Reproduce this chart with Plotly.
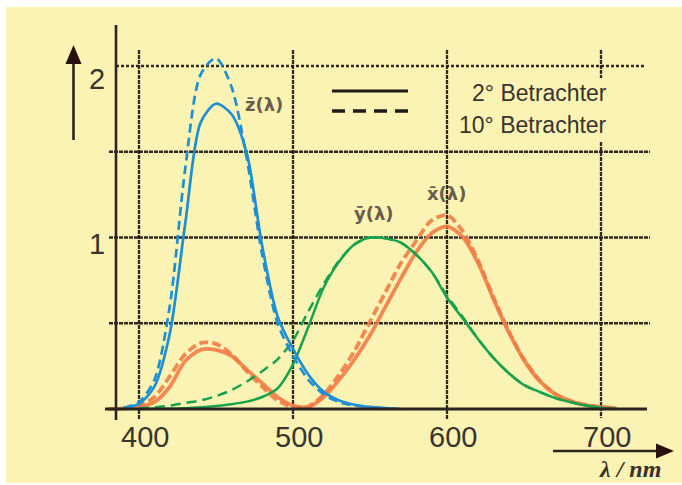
import plotly.graph_objects as go

# ---------------- data ----------------
wavelength = [380, 390, 400, 410, 420, 430, 440, 450, 460, 470, 480, 490, 500,
              510, 520, 530, 540, 550, 560, 570, 580, 590, 600, 610, 620, 630,
              640, 650, 660, 670, 680, 690, 700, 710, 720]

x_2deg = [0.0, 0.004, 0.012, 0.04, 0.13, 0.28, 0.345, 0.345, 0.31, 0.23, 0.15, 0.07, 0.02,
          0.012, 0.07, 0.17, 0.29, 0.43, 0.595, 0.76, 0.915, 1.025, 1.065, 1.005, 0.855, 0.645,
          0.45, 0.285, 0.165, 0.088, 0.047, 0.023, 0.011, 0.004, None]
x_10deg = [None, 0.004, 0.02, 0.07, 0.19, 0.32, 0.385, 0.38, 0.32, 0.22, 0.13, 0.05, 0.012,
           0.015, 0.085, 0.20, 0.34, 0.51, 0.68, 0.85, 0.98, 1.10, 1.13, 1.04, 0.87, 0.655,
           0.455, 0.29, 0.168, 0.09, 0.048, 0.024, 0.012, 0.005, None]
y_2deg = [None, None, 0.0, 0.001, 0.002, 0.005, 0.01, 0.018, 0.028, 0.043, 0.07, 0.12, 0.26,
          0.48, 0.71, 0.86, 0.96, 1.0, 0.995, 0.97, 0.90, 0.80, 0.65, 0.53, 0.41, 0.30,
          0.21, 0.14, 0.10, 0.065, 0.04, 0.02, 0.008, 0.003, None]
y_10deg = [None, None, 0.004, 0.01, 0.02, 0.035, 0.05, 0.075, 0.11, 0.16, 0.22, 0.29, 0.40,
           0.57, 0.73, 0.865, 0.96, 1.0, 0.995, 0.97, 0.90, 0.80, 0.66, 0.54, 0.41, 0.30,
           0.21, 0.14, 0.10, 0.065, 0.04, 0.02, 0.008, None, None]
z_2deg = [None, 0.006, 0.03, 0.13, 0.44, 1.08, 1.67, 1.78, 1.72, 1.49, 0.95, 0.54, 0.35,
          0.20, 0.10, 0.05, 0.025, 0.012, 0.005, 0.0, None, None, None, None, None, None,
          None, None, None, None, None, None, None, None, None]
z_10deg = [None, 0.006, 0.04, 0.17, 0.60, 1.40, 1.95, 2.045, 1.88, 1.46, 0.90, 0.50, 0.31,
           0.17, 0.085, 0.04, 0.02, 0.008, 0.0, None, None, None, None, None, None, None,
           None, None, None, None, None, None, None, None, None]

x_ticks = [400, 500, 600, 700]
x_tick_labels = ["400", "500", "600", "700"]
y_ticks = [1, 2]
y_tick_labels = ["1", "2"]
y_grid = [0.5, 1.0, 1.5]
y_grid_top = 2.0

legend_labels = ["2° Betrachter", "10° Betrachter"]
curve_labels = ["z\u0304(λ)", "y\u0304(λ)", "x\u0304(λ)"]
x_axis_title = "λ / nm"

# ---------------- geometry helpers ----------------
W, H = 682, 485
X_PX0, X_PX_PER = 139.0, 1.54      # pixel of 400 nm, pixels per nm
Y_PX0, Y_PX_PER = 409.0, 171.5     # pixel of value 0, pixels per unit


def px2x(px):
    return 400 + (px - X_PX0) / X_PX_PER


def px2y(py):
    return (Y_PX0 - py) / Y_PX_PER


BLUE = "#1f8fd4"
GREEN = "#17a24c"
ORANGE = "rgba(240,122,70,0.88)"
DARK = "#2b2420"
GRID = "rgba(35,30,25,0.95)"
TEXT = "#3a332d"
BG = "#FBF3B3"

fig = go.Figure()


def add_curve(vals, color, width, dash):
    fig.add_trace(go.Scatter(x=wavelength, y=vals, mode="lines",
                             line=dict(color=color, width=width, dash=dash, shape="spline",
                                       smoothing=0.8),
                             connectgaps=False, showlegend=False, hoverinfo="skip"))


add_curve(x_10deg, ORANGE, 3.8, "9px,4px")
add_curve(x_2deg, ORANGE, 3.8, "solid")
add_curve(y_10deg, GREEN, 2.5, "10px,6px")
add_curve(y_2deg, GREEN, 2.5, "solid")
add_curve(z_10deg, BLUE, 2.7, "9px,5px")
add_curve(z_2deg, BLUE, 2.7, "solid")

shapes = []
# yellow background
shapes.append(dict(type="rect", xref="paper", yref="paper", x0=6 / W, x1=1, y0=2 / H, y1=478 / H,
                   fillcolor=BG, line=dict(width=0), layer="below"))
# vertical grid lines
for t in x_ticks:
    if t == 700:
        segs = [(50, 78), (142, 418)]
    else:
        segs = [(50, 420)]
    for a, b in segs:
        shapes.append(dict(type="line", xref="x", yref="y", x0=t, x1=t, y0=px2y(a), y1=px2y(b),
                           line=dict(color=GRID, width=2.3, dash="4px,1px"), layer="below"))
# horizontal grid lines
for g in y_grid:
    shapes.append(dict(type="line", xref="x", yref="y", x0=px2x(109), x1=px2x(650), y0=g, y1=g,
                       line=dict(color=GRID, width=2.3, dash="4px,1px"), layer="below"))
shapes.append(dict(type="line", xref="x", yref="y", x0=px2x(116), x1=px2x(645),
                   y0=y_grid_top, y1=y_grid_top,
                   line=dict(color=GRID, width=2.4, dash="3px,2px"), layer="below"))
# axes
shapes.append(dict(type="line", xref="x", yref="y", x0=px2x(116), x1=px2x(116),
                   y0=px2y(25), y1=px2y(420), line=dict(color=DARK, width=2.6)))
shapes.append(dict(type="line", xref="x", yref="y", x0=px2x(105), x1=px2x(647),
                   y0=0, y1=0, line=dict(color=DARK, width=3)))
# y arrow
shapes.append(dict(type="line", xref="x", yref="y", x0=px2x(73.5), x1=px2x(73.5),
                   y0=px2y(140), y1=px2y(60), line=dict(color=DARK, width=2.6)))
shapes.append(dict(type="path", xref="x", yref="y",
                   path=f"M {px2x(73.5)} {px2y(45)} L {px2x(81.5)} {px2y(64)} "
                        f"L {px2x(65.5)} {px2y(64)} Z",
                   fillcolor="#2a1010", line=dict(width=0)))
# x arrow
shapes.append(dict(type="line", xref="x", yref="y", x0=px2x(553), x1=px2x(660),
                   y0=px2y(451), y1=px2y(451), line=dict(color=DARK, width=2.6)))
shapes.append(dict(type="path", xref="x", yref="y",
                   path=f"M {px2x(674)} {px2y(451)} L {px2x(656)} {px2y(443.5)} "
                        f"L {px2x(656)} {px2y(458.5)} Z",
                   fillcolor="#2a1010", line=dict(width=0)))
# legend samples
shapes.append(dict(type="line", xref="x", yref="y", x0=px2x(332), x1=px2x(408),
                   y0=px2y(91), y1=px2y(91), line=dict(color="#1e1a18", width=3)))
shapes.append(dict(type="line", xref="x", yref="y", x0=px2x(332), x1=px2x(409),
                   y0=px2y(111), y1=px2y(111),
                   line=dict(color="#1e1a18", width=3.5, dash="13px,8px")))

annotations = []
for t, lab in zip(x_ticks, x_tick_labels):
    annotations.append(dict(x=t, y=px2y(437), text=lab, showarrow=False, xshift=6,
                            font=dict(family="Liberation Sans", size=29, color=TEXT)))
for t, lab in zip(y_ticks, y_tick_labels):
    annotations.append(dict(x=px2x(97), y=t, text=lab, showarrow=False,
                            yshift=-(13 if t == 2 else 6),
                            font=dict(family="Liberation Sans", size=29, color=TEXT)))
for i, (lab, ypx) in enumerate(zip(legend_labels, [93, 125])):
    annotations.append(dict(x=px2x(609), y=px2y(ypx), text=lab, showarrow=False, xanchor="right",
                            font=dict(family="Liberation Sans", size=23, color=TEXT)))
for lab, (cx, cy) in zip(curve_labels, [(264, 104), (374, 213), (446, 193)]):
    annotations.append(dict(x=px2x(cx), y=px2y(cy), text="<b>" + lab + "</b>", showarrow=False,
                            font=dict(family="DejaVu Sans", size=18, color="#6a5c4c")))
annotations.append(dict(x=px2x(630), y=px2y(469), text="<b><i>" + x_axis_title + "</i></b>",
                        showarrow=False,
                        font=dict(family="Liberation Serif", size=24, color="#3a3028")))

fig.update_layout(
    width=W, height=H, margin=dict(l=0, r=0, t=0, b=0),
    paper_bgcolor="white", plot_bgcolor="rgba(0,0,0,0)",
    xaxis=dict(range=[px2x(0), px2x(W)], visible=False, fixedrange=True),
    yaxis=dict(range=[px2y(H), px2y(0)], visible=False, fixedrange=True),
    shapes=shapes, annotations=annotations, showlegend=False,
)

fig.write_html("out.html")
